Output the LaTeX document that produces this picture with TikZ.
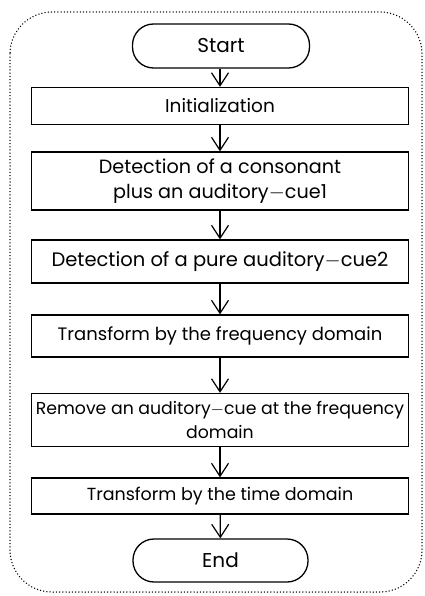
\documentclass[tikz,border=0pt]{standalone}
\usepackage{fontspec}
\setmainfont{Poppins}
\usetikzlibrary{arrows.meta}
\newcommand{\fsz}[1]{\fontsize{#1}{24}\selectfont}
\newcommand{\fszb}[2]{\fontsize{#1}{#2}\selectfont}
\begin{document}
\begin{tikzpicture}[x=1pt,y=-1pt,
  boxstyle/.style={draw, line width=1.3pt, minimum width=377pt, inner sep=0pt, align=center,
    font=\fsz{18}},
  termstyle/.style={draw, line width=1.3pt, rounded corners=21pt, inner sep=0pt,
    font=\fsz{20}},
  flow/.style={line width=1.2pt, -{Straight Barb[length=13pt,width=17pt,line width=1.2pt]}}]
\useasboundingbox (0,0) rectangle (424,596);
\draw[line width=1.5pt, line cap=round, dash pattern=on 0pt off 3.2pt, rounded corners=42pt]
  (10,12) rectangle (422,592);
\node[termstyle, minimum width=177pt, minimum height=44pt] (start) at (221,46) {Start};
\node[boxstyle, minimum height=37pt, font=\fsz{18.5}] (init) at (220,106) {Initialization};
\node[boxstyle, minimum height=58pt, font={\fszb{19.2}{25.5}}] (det1) at (220,181) {Detection of a consonant\\plus an auditory$-$cue1};
\node[boxstyle, minimum height=43pt, font=\fsz{19.5}] (det2) at (220,261.5) {Detection of a pure auditory$-$cue2};
\node[boxstyle, minimum height=42pt] (freq) at (220,336) {Transform by the frequency domain};
\node[boxstyle, minimum height=53pt, font={\fszb{17.3}{24.5}}] (remove) at (220,420) {Remove an auditory$-$cue at the frequency\\domain};
\node[boxstyle, minimum height=36pt, font=\fsz{17.5}] (time) at (220,496) {Transform by the time domain};
\node[termstyle, minimum width=175pt, minimum height=43pt] (end) at (220.5,560.5) {End};
\draw[flow] (start.south -| init.north) -- (init.north);
\draw[flow] (init) -- (det1);
\draw[flow] (det1) -- (det2);
\draw[flow] (det2) -- (freq);
\draw[flow] (freq) -- (remove);
\draw[flow] (remove) -- (time);
\draw[flow] (time) -- (end);
\end{tikzpicture}
\end{document}
